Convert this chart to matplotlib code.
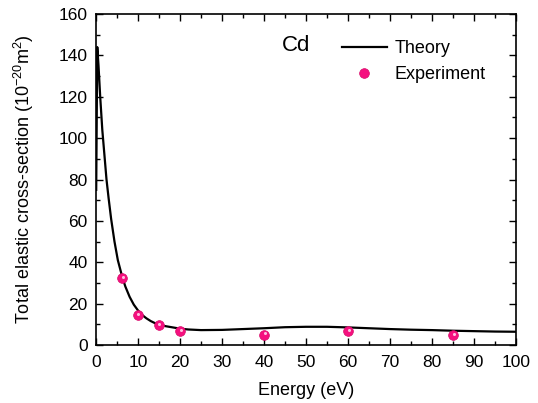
import numpy as np
import matplotlib.pyplot as plt
from matplotlib.ticker import MultipleLocator

plt.rcParams['font.family'] = ['Liberation Sans', 'DejaVu Sans']
plt.rcParams['mathtext.fontset'] = 'custom'
plt.rcParams['mathtext.rm'] = 'Liberation Sans'

# theoretical cross-section curve (eV, 1e-20 m^2)
energy_theory = [0.05, 0.3, 0.6, 1.0, 1.5, 2.0, 2.5, 3.0, 3.6, 4.4, 5.2, 6.3,
                 7, 8, 9, 10, 11, 12, 13, 14, 15, 16, 18, 20, 22, 25, 30, 35,
                 40, 45, 50, 55, 60, 65, 70, 75, 80, 85, 90, 95, 100]
sigma_theory = [75, 144, 135, 120, 104, 92, 80, 71, 61, 50, 41, 32.5,
                28.2, 23.3, 19.5, 16.7, 14.5, 12.9, 11.6, 10.6, 9.9, 9.3, 8.6,
                7.9, 7.5, 7.2, 7.3, 7.7, 8.1, 8.6, 8.8, 8.8, 8.5, 8.1, 7.7,
                7.4, 7.2, 6.9, 6.7, 6.5, 6.4]

# measured points
energy_exp = [6.3, 9.9, 14.9, 20, 40, 60, 85]
sigma_exp = [32.2, 14.5, 9.6, 6.7, 5.0, 6.7, 4.6]

fig = plt.figure(figsize=(5.38, 4.03), dpi=100)
ax = fig.add_axes([96 / 538, 1 - 345 / 403, 420 / 538, 331 / 403])

ax.plot(energy_theory, sigma_theory, color='black', lw=1.6, label='Theory')
ax.plot(energy_exp, sigma_exp, 'o', color='#f5107f', ms=7, mec='#d80c6a',
        mew=0.5, label='Experiment', zorder=3)
# small highlight on each sphere
ax.plot(np.array(energy_exp) + 0.15, np.array(sigma_exp) + 0.6, 'o',
        color='#ffc0e0', ms=2.2, mew=0, zorder=4)

ax.set_xlim(0, 100)
ax.set_ylim(0, 160)
ax.xaxis.set_major_locator(MultipleLocator(10))
ax.xaxis.set_minor_locator(MultipleLocator(5))
ax.yaxis.set_major_locator(MultipleLocator(20))
ax.yaxis.set_minor_locator(MultipleLocator(10))
ax.tick_params(which='both', direction='in', top=True, right=True,
               labelsize=12.5, width=1)
ax.tick_params(axis='x', pad=7)
ax.tick_params(axis='y', pad=6)
ax.tick_params(which='major', length=5)
ax.tick_params(which='minor', length=3)
for s in ax.spines.values():
    s.set_linewidth(1.2)

ax.set_xlabel('Energy (eV)', fontsize=13, labelpad=9)
ax.set_ylabel('Total elastic cross-section (10$^{-20}$m$^2$)', fontsize=13,
              labelpad=16)

ax.text(47.6, 145, 'Cd', fontsize=16, ha='center', va='center')
ax.legend(loc='upper left', bbox_to_anchor=(0.585, 0.921), frameon=False,
          fontsize=13, handlelength=2.5, handletextpad=0.45,
          labelspacing=0.5, borderpad=0, borderaxespad=0)

fig.savefig('out.png', dpi=100)
